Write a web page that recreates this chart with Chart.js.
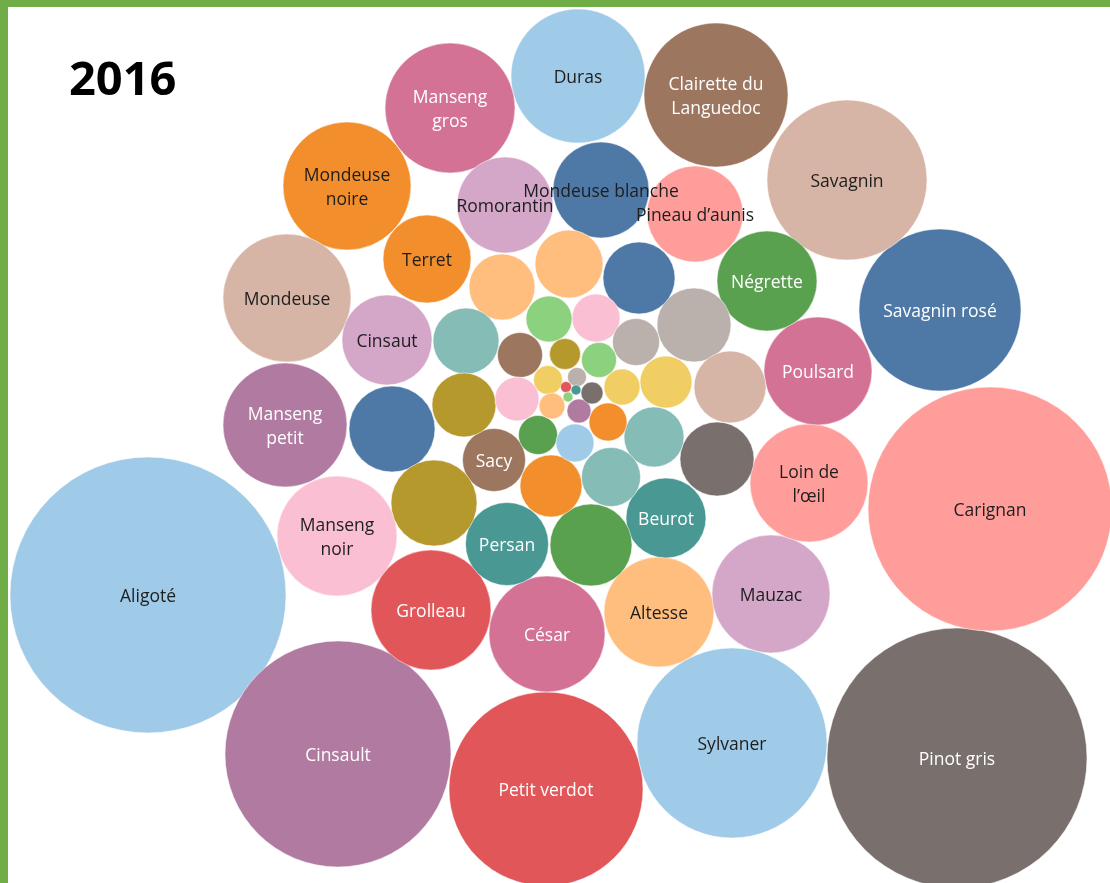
<!DOCTYPE html>
<html>
<head>
<meta charset="utf-8">
<script src="https://cdn.jsdelivr.net/npm/chart.js@4.4.1/dist/chart.umd.min.js"></script>
<style>
  html, body { margin: 0; padding: 0; background: #fff; }
  #wrap { position: relative; width: 1110px; height: 883px; overflow: hidden; }
  #c { position: absolute; left: 0; top: 0; }
  .bt { position: absolute; left: 0; top: 0; width: 1110px; height: 7px; background: #70AD47; }
  .bl { position: absolute; left: 0; top: 0; width: 8px; height: 883px; background: #70AD47; }
  #title { position: absolute; left: 69px; top: 54px; font-family: "Open Sans", sans-serif; font-weight: 700; font-size: 47px; line-height: 1; color: #000; }
</style>
</head>
<body>
<div id="wrap">
  <canvas id="c" width="1110" height="883"></canvas>
  <div class="bt"></div>
  <div class="bl"></div>
  <div id="title">2016</div>
</div>
<script>
// Grape varieties (empty label = unlabeled small bubble)
const varieties = [
  "Aligoté","Cinsault","Petit verdot","Sylvaner","Pinot gris","Carignan","Savagnin rosé","Savagnin",
  "Clairette du\nLanguedoc","Duras","Manseng\ngros","Mondeuse\nnoire","Mondeuse","Manseng\npetit","Manseng\nnoir","Grolleau",
  "César","Altesse","Mauzac","Loin de\nl’œil","Poulsard","Négrette","Pineau d’aunis","Mondeuse blanche",
  "Romorantin","Terret","Cinsaut","Beurot","Persan","Sacy",
  "","","","","","","","","","","","","","","","","","","","","","","","","","","","","","","","","",""
];
// bubble layout values
const bubbleX = [148,338,546,732,957,990,940,847,716,578,450,347,287,285,337,431,547,659,771,809,818,767,695,601,505,427,387,666,507,494,
  392,434,591,717,694,730,639,569,502,466,464,551,654,611,666,596,636,549,520,517,538,575,608,622,599,565,548,552,579,592,577,566,576,568];
const bubbleY = [595,754,789,743,758,509,310,180,95,76,108,186,298,425,536,610,634,612,594,483,371,281,214,190,205,259,340,518,544,460,
  429,503,545,459,325,387,278,264,287,341,405,486,437,477,382,318,342,319,355,399,435,443,422,387,360,354,380,406,411,393,377,387,390,397];
const bubbleSize = [138,113,97,95,130,122,81,80,72,67,65,64,64,62,60,60,58,55,59,59,54,50,48,48,48,44,45,40,41.5,31.5,
  43,43,41,37,37,36,36,34,33,33,32,31,30,29.5,26,24,23.5,23,22.5,22,19.5,19,19,18,17.5,15.5,14.5,13,12,11,9.5,5.5,5,5];
const bubbleColors = ["#A0CBE8","#B07AA1","#E15759","#A0CBE8","#79706E","#FF9D9A","#4E79A7","#D7B5A6",
  "#9D7660","#A0CBE8","#D37295","#F28E2B","#D7B5A6","#B07AA1","#FABFD2","#E15759",
  "#D37295","#FFBE7D","#D4A6C8","#FF9D9A","#D37295","#59A14F","#FF9D9A","#4E79A7",
  "#D4A6C8","#F28E2B","#D4A6C8","#499894","#499894","#9D7660",
  "#4E79A7","#B6992D","#59A14F","#79706E","#BAB0AC","#D7B5A6","#4E79A7","#FFBE7D","#FFBE7D","#86BCB6",
  "#B6992D","#F28E2B","#86BCB6","#86BCB6","#F1CE63","#FABFD2","#BAB0AC","#8CD17D","#9D7660","#FABFD2",
  "#59A14F","#A0CBE8","#F28E2B","#F1CE63","#8CD17D","#B6992D","#F1CE63","#FFBE7D","#B07AA1","#79706E",
  "#BAB0AC","#E15759","#499894","#8CD17D"];
const whiteLabels = ["Manseng\ngros","Clairette du\nLanguedoc","Savagnin rosé","Négrette","Poulsard","Manseng\npetit",
  "Cinsault","Petit verdot","Pinot gris","Grolleau","César","Sacy","Persan","Beurot"];

const points = bubbleX.map((x, i) => ({ x: x, y: bubbleY[i], r: bubbleSize[i] }));

const labelPlugin = {
  id: 'bubbleLabels',
  afterDatasetsDraw(chart) {
    const ctx = chart.ctx;
    const meta = chart.getDatasetMeta(0);
    ctx.save();
    ctx.font = '17.5px "Open Sans", sans-serif';
    ctx.textAlign = 'center';
    ctx.textBaseline = 'middle';
    meta.data.forEach((el, i) => {
      const name = varieties[i];
      if (!name) return;
      const lines = name.split('\n');
      ctx.fillStyle = whiteLabels.includes(name) ? '#ffffff' : '#1e1e1e';
      const lh = 24;
      const y0 = el.y + 2 - (lines.length - 1) * lh / 2;
      lines.forEach((ln, k) => ctx.fillText(ln, el.x, y0 + k * lh));
    });
    ctx.restore();
  }
};

new Chart(document.getElementById('c'), {
  type: 'bubble',
  data: {
    datasets: [{
      data: points,
      backgroundColor: bubbleColors,
      borderColor: 'rgba(255,255,255,0.5)',
      borderWidth: 1,
      clip: false
    }]
  },
  options: {
    responsive: false,
    animation: false,
    events: [],
    layout: { padding: 0, autoPadding: false },
    plugins: { legend: { display: false }, tooltip: { enabled: false }, title: { display: false } },
    scales: {
      x: { type: 'linear', min: 0, max: 1110, display: false },
      y: { type: 'linear', min: 0, max: 883, reverse: true, display: false }
    }
  },
  plugins: [labelPlugin]
});
</script>
</body>
</html>
